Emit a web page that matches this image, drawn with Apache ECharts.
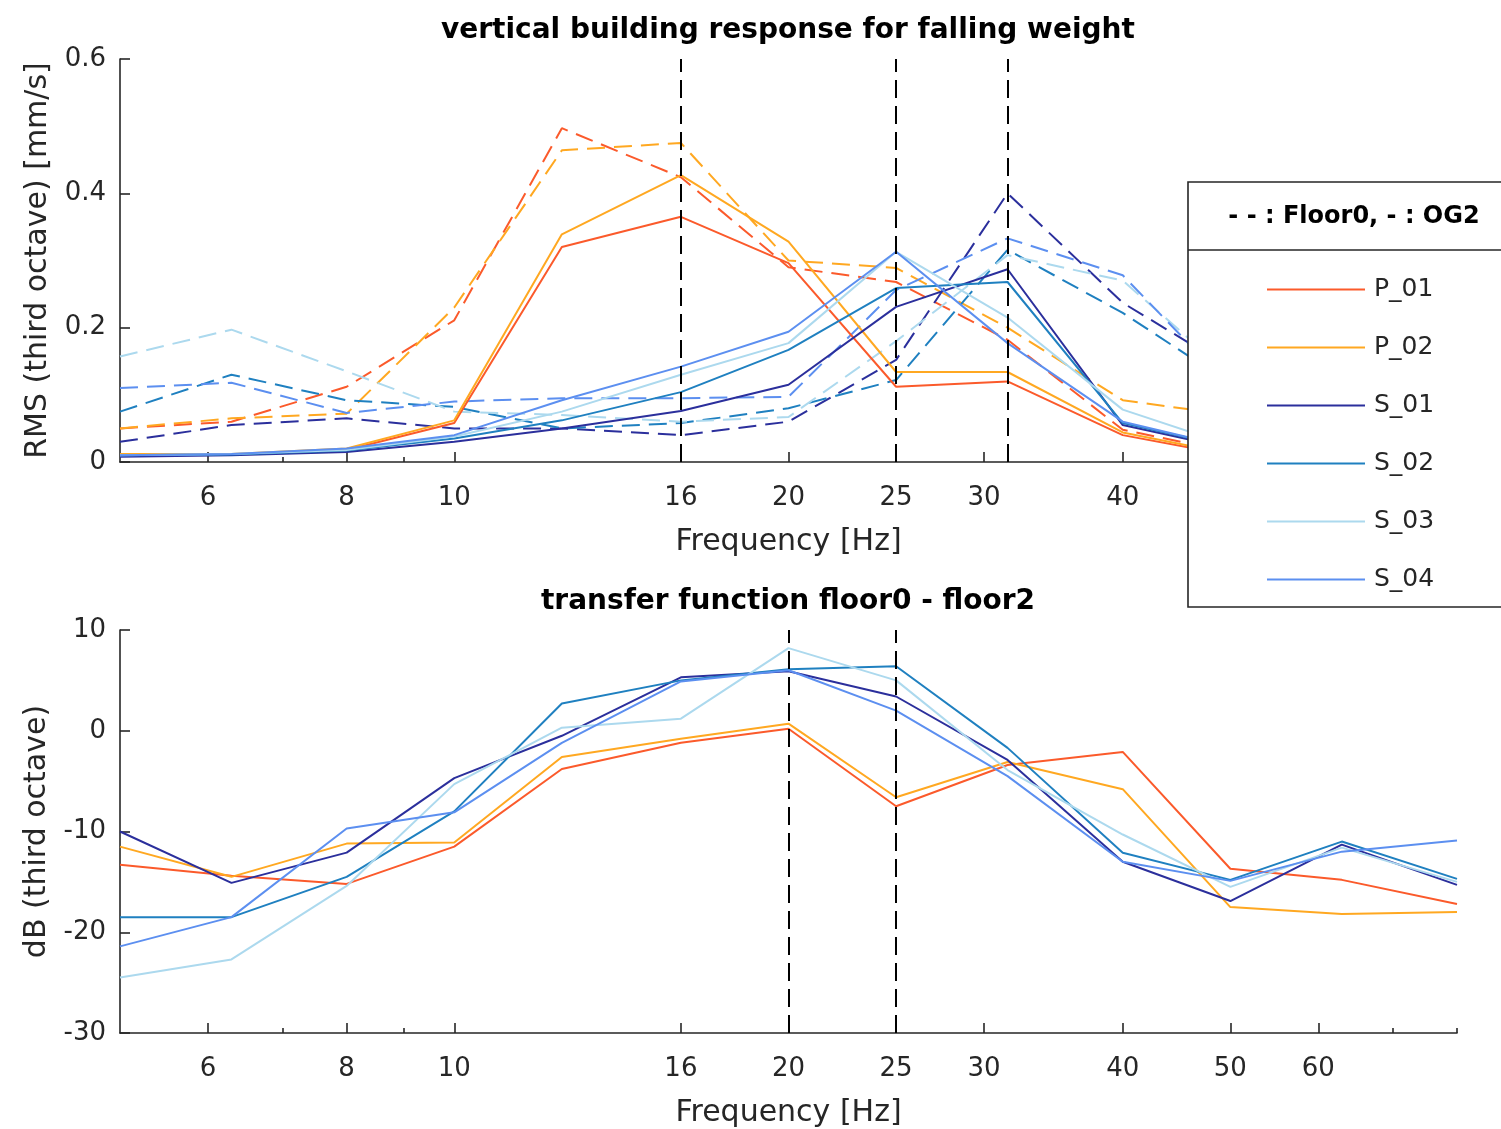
<!DOCTYPE html>
<html>
<head>
<meta charset="utf-8">
<script src="https://cdn.jsdelivr.net/npm/echarts@6/dist/echarts.min.js"></script>
<style>
html, body { margin: 0; background: #fff; }
#chart { width: 1501px; height: 1129px; }
</style>
</head>
<body>
<div id="chart"></div>
<script>
// third octave band centres [Hz]
var freqs = [5, 6.3, 8, 10, 12.5, 16, 20, 25, 31.5, 40, 50, 63, 80];
var names = ['P_01', 'P_02', 'S_01', 'S_02', 'S_03', 'S_04'];

// RMS, OG2 (solid) [mm/s]
var og2_P01 = [0.010, 0.011, 0.018, 0.058, 0.320, 0.365, 0.296, 0.112, 0.120, 0.040, 0.010, 0.006, 0.004];
var og2_P02 = [0.012, 0.012, 0.020, 0.062, 0.339, 0.427, 0.328, 0.134, 0.134, 0.044, 0.012, 0.007, 0.005];
var og2_S01 = [0.008, 0.010, 0.015, 0.030, 0.050, 0.076, 0.115, 0.231, 0.287, 0.055, 0.020, 0.012, 0.008];
var og2_S02 = [0.010, 0.011, 0.017, 0.035, 0.062, 0.104, 0.167, 0.259, 0.268, 0.058, 0.022, 0.013, 0.008];
var og2_S03 = [0.010, 0.012, 0.018, 0.038, 0.075, 0.130, 0.177, 0.313, 0.215, 0.078, 0.025, 0.014, 0.009];
var og2_S04 = [0.010, 0.012, 0.020, 0.040, 0.092, 0.142, 0.194, 0.313, 0.177, 0.060, 0.022, 0.013, 0.008];

// RMS, Floor0 (dashed) [mm/s]
var fl0_P01 = [0.050, 0.060, 0.112, 0.211, 0.497, 0.424, 0.290, 0.268, 0.182, 0.048, 0.015, 0.008, 0.005];
var fl0_P02 = [0.050, 0.065, 0.072, 0.230, 0.464, 0.475, 0.300, 0.289, 0.200, 0.092, 0.070, 0.040, 0.020];
var fl0_S01 = [0.030, 0.055, 0.065, 0.050, 0.050, 0.040, 0.060, 0.152, 0.400, 0.237, 0.140, 0.060, 0.030];
var fl0_S02 = [0.075, 0.130, 0.092, 0.082, 0.050, 0.058, 0.080, 0.122, 0.316, 0.222, 0.117, 0.050, 0.025];
var fl0_S03 = [0.157, 0.197, 0.135, 0.075, 0.070, 0.060, 0.067, 0.180, 0.308, 0.270, 0.130, 0.055, 0.028];
var fl0_S04 = [0.110, 0.118, 0.073, 0.090, 0.095, 0.095, 0.097, 0.256, 0.333, 0.278, 0.112, 0.050, 0.025];

// transfer function floor0 - floor2 [dB]
var tf_P01 = [-13.3, -14.4, -15.2, -11.5, -3.8, -1.2, 0.2, -7.5, -3.4, -2.1, -13.7, -14.8, -17.2];
var tf_P02 = [-11.5, -14.5, -11.2, -11.1, -2.6, -0.8, 0.7, -6.6, -3.1, -5.8, -17.5, -18.2, -18.0];
var tf_S01 = [-10.0, -15.1, -12.1, -4.7, -0.5, 5.3, 5.9, 3.4, -2.9, -13.0, -16.9, -11.3, -15.3];
var tf_S02 = [-18.5, -18.5, -14.5, -8.0, 2.7, 5.0, 6.1, 6.4, -1.7, -12.1, -14.8, -11.0, -14.7];
var tf_S03 = [-24.5, -22.7, -15.4, -5.3, 0.3, 1.2, 8.2, 5.0, -3.9, -10.3, -15.5, -11.6, -15.0];
var tf_S04 = [-21.4, -18.5, -9.7, -8.1, -1.2, 4.9, 6.0, 2.0, -4.5, -13.0, -14.9, -12.0, -10.9];

var xTicks = [6, 8, 10, 16, 20, 25, 30, 40, 50, 60];
var xMinorTicks = [7, 9, 70, 80];
var marksTop = [16, 25, 31.5];
var marksBottom = [20, 25];

var og2 = [og2_P01, og2_P02, og2_S01, og2_S02, og2_S03, og2_S04];
var fl0 = [fl0_P01, fl0_P02, fl0_S01, fl0_S02, fl0_S03, fl0_S04];
var tf = [tf_P01, tf_P02, tf_S01, tf_S02, tf_S03, tf_S04];

var colors = ['#fb5a2b', '#ffa821', '#2b2f9c', '#1f80c0', '#acd9ee', '#5c8ff0'];
var font = 'DejaVu Sans';
var ink = '#262626';

function lg(v) { return Math.log10(v); }
function toXY(vals) {
    return freqs.map(function (f, i) { return [lg(f), vals[i]]; });
}

function mainX(gi) {
    return {
        type: 'value', gridIndex: gi, min: lg(5), max: lg(80),
        name: 'Frequency [Hz]', nameLocation: 'middle', nameGap: 65,
        nameTextStyle: { fontSize: 30, color: ink, fontFamily: font },
        axisLine: { show: true, onZero: false, lineStyle: { color: ink, width: 1.6 } },
        axisTick: { inside: true, length: 10, customValues: xTicks.map(lg), lineStyle: { color: ink, width: 1.6 } },
        axisLabel: {
            customValues: xTicks.map(lg), margin: 23, fontSize: 26, color: ink, fontFamily: font,
            formatter: function (v) { return String(Math.round(Math.pow(10, v))); }
        },
        splitLine: { show: false }
    };
}
function minorX(gi) {
    return {
        type: 'value', gridIndex: gi, min: lg(5), max: lg(80), position: 'bottom',
        axisLine: { show: false, onZero: false },
        axisTick: { inside: true, length: 5, customValues: xMinorTicks.map(lg), lineStyle: { color: ink, width: 1.6 } },
        axisLabel: { show: false },
        splitLine: { show: false }
    };
}
function yAx(gi, min, max, step, label) {
    return {
        type: 'value', gridIndex: gi, min: min, max: max, interval: step,
        name: label, nameLocation: 'middle', nameGap: 67, nameRotate: 90,
        nameTextStyle: { fontSize: 30, color: ink, fontFamily: font },
        axisLine: { show: true, onZero: false, lineStyle: { color: ink, width: 1.6 } },
        axisTick: { show: true, inside: true, length: 10, lineStyle: { color: ink, width: 1.6 } },
        axisLabel: { margin: 14, fontSize: 26, color: ink, fontFamily: font },
        splitLine: { show: false }
    };
}

var series = [];
names.forEach(function (n, i) {
    series.push({
        name: n + ' Floor0', type: 'line', xAxisIndex: 0, yAxisIndex: 0,
        data: toXY(fl0[i]), symbol: 'none', color: colors[i],
        lineStyle: { color: colors[i], width: 2, type: [18, 9] }
    });
});
names.forEach(function (n, i) {
    series.push({
        name: n, type: 'line', xAxisIndex: 0, yAxisIndex: 0,
        data: toXY(og2[i]), symbol: 'none', color: colors[i],
        lineStyle: { color: colors[i], width: 2 }
    });
});
names.forEach(function (n, i) {
    series.push({
        name: n, type: 'line', xAxisIndex: 2, yAxisIndex: 1,
        data: toXY(tf[i]), symbol: 'none', color: colors[i],
        lineStyle: { color: colors[i], width: 2 }
    });
});

function markSeries(xi, yi, list) {
    return {
        name: 'marks', type: 'line', xAxisIndex: xi, yAxisIndex: yi,
        data: [], symbol: 'none', silent: true,
        markLine: {
            silent: true, precision: 8, symbol: ['none', 'none'], label: { show: false },
            lineStyle: { color: '#000', width: 2, type: [18, 8] },
            data: list.map(function (f) { return { xAxis: lg(f) }; })
        }
    };
}
series.push(markSeries(0, 0, marksTop));
series.push(markSeries(2, 1, marksBottom));

var chart = echarts.init(document.getElementById('chart'));
chart.setOption({
    animation: false,
    backgroundColor: '#fff',
    title: [
        { text: 'vertical building response for falling weight', left: 788, top: 17, padding: 0, textAlign: 'center',
          textStyle: { fontSize: 28, fontWeight: 'bold', color: '#000', fontFamily: font } },
        { text: 'transfer function floor0 - floor2', left: 788, top: 588, padding: 0, textAlign: 'center',
          textStyle: { fontSize: 28, fontWeight: 'bold', color: '#000', fontFamily: font } }
    ],
    grid: [
        { left: 120, top: 59, width: 1337, height: 403 },
        { left: 120, top: 630, width: 1337, height: 404 }
    ],
    xAxis: [mainX(0), minorX(0), mainX(1), minorX(1)],
    yAxis: [
        yAx(0, 0, 0.6, 0.2, 'RMS (third octave) [mm/s]'),
        yAx(1, -30, 10, 10, 'dB (third octave)')
    ],
    legend: {
        data: names, orient: 'vertical', left: 1262, top: 272, z: 60,
        itemWidth: 98, itemHeight: 2, itemGap: 33, symbolKeepAspect: false,
        icon: 'path://M0 0H98V2H0Z',
        textStyle: { fontSize: 25, color: ink, fontFamily: font, lineHeight: 25, padding: [0, 0, 0, 4] }
    },
    graphic: [
        { type: 'rect', z: 50, shape: { x: 1188, y: 182, width: 340, height: 425 },
          style: { fill: '#fff', stroke: ink, lineWidth: 1.6 } },
        { type: 'line', z: 51, shape: { x1: 1188, y1: 250, x2: 1501, y2: 250 },
          style: { stroke: ink, lineWidth: 1.6 } },
        { type: 'text', z: 51, x: 1354, y: 217,
          style: { text: '- - : Floor0, - : OG2', fontSize: 24, fontWeight: 'bold', fontFamily: font,
                   fill: '#000', align: 'center', verticalAlign: 'middle' } }
    ],
    series: series
});
</script>
</body>
</html>
